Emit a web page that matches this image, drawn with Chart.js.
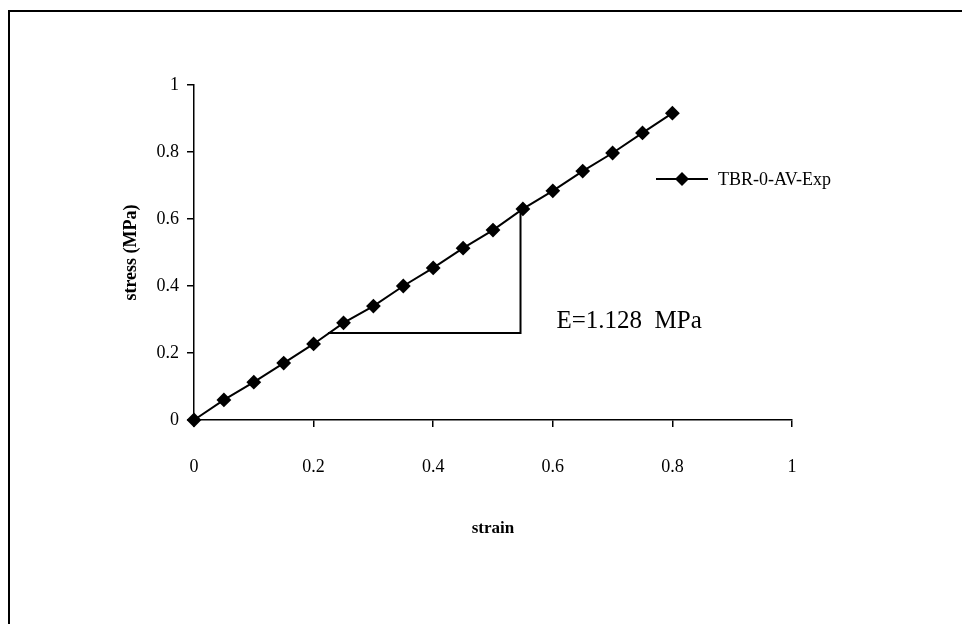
<!DOCTYPE html>
<html>
<head>
<meta charset="utf-8">
<script src="https://cdn.jsdelivr.net/npm/chart.js@4.4.0/dist/chart.umd.min.js"></script>
<style>
  html, body { margin: 0; padding: 0; background: #fff; }
  #wrap { position: relative; width: 962px; height: 624px; overflow: hidden; }
  #frame { position: absolute; left: 8px; top: 10px; right: -10px; bottom: -10px;
           border-top: 2px solid #000; border-left: 2px solid #000; }
  canvas { position: absolute; left: 0; top: 0; }
</style>
</head>
<body>
<div id="wrap">
  <div id="frame"></div>
  <canvas id="c" width="962" height="624"></canvas>
</div>
<script>
const strain = [0, 0.05, 0.1, 0.15, 0.2, 0.25, 0.3, 0.35, 0.4, 0.45, 0.5, 0.55, 0.6, 0.65, 0.7, 0.75, 0.8];
const stress = [0, 0.060, 0.113, 0.170, 0.227, 0.290, 0.340, 0.400, 0.454, 0.513, 0.567, 0.630, 0.684, 0.743, 0.797, 0.857, 0.916];
// slope triangle (strain, stress)
const triX = [0.224, 0.546, 0.546];
const triY = [0.26, 0.26, 0.625];
const xTicks = [0, 0.2, 0.4, 0.6, 0.8, 1];
const yTicks = [0, 0.2, 0.4, 0.6, 0.8, 1];
const seriesName = "TBR-0-AV-Exp";
const noteText = "E=1.128  MPa";
const notePos = [0.606, 0.293];

const SERIF = "'Liberation Serif', 'Times New Roman', serif";

const overlay = {
  id: "overlay",
  afterDatasetsDraw(chart) {
    const { ctx, scales: { x, y } } = chart;
    ctx.save();
    // annotation
    ctx.fillStyle = "#000";
    ctx.font = "25px " + SERIF;
    ctx.textBaseline = "middle";
    ctx.textAlign = "left";
    ctx.fillText(noteText, x.getPixelForValue(notePos[0]), y.getPixelForValue(notePos[1]));
    // legend
    const ly = 179;
    ctx.strokeStyle = "#000";
    ctx.lineWidth = 2;
    ctx.beginPath(); ctx.moveTo(656, ly); ctx.lineTo(708, ly); ctx.stroke();
    ctx.beginPath();
    ctx.moveTo(682, ly - 7); ctx.lineTo(689, ly); ctx.lineTo(682, ly + 7); ctx.lineTo(675, ly);
    ctx.closePath(); ctx.fill();
    ctx.font = "18px " + SERIF;
    ctx.fillText(seriesName, 718, ly + 1);
    ctx.restore();
  }
};

const fmt = v => String(v);

new Chart(document.getElementById("c"), {
  type: "scatter",
  data: {
    datasets: [
      { label: seriesName, data: strain.map((s, i) => ({ x: s, y: stress[i] })),
        showLine: true, borderColor: "#000", backgroundColor: "#000", borderWidth: 2,
        pointStyle: "rectRot", pointRadius: 6, pointHoverRadius: 6, clip: false },
      { label: "slope", data: triX.map((s, i) => ({ x: s, y: triY[i] })),
        showLine: true, borderColor: "#000", borderWidth: 2, pointRadius: 0, clip: false },
    ],
  },
  options: {
    responsive: false, animation: false, events: [],
    layout: { padding: { top: 85, right: 170, left: 0, bottom: 0 } },
    scales: {
      x: {
        type: "linear", min: 0, max: 1,
        afterBuildTicks: s => { s.ticks = xTicks.map(v => ({ value: v })); },
        afterFit: s => { s.height = 204; },
        ticks: { color: "#000", font: { family: SERIF, size: 18 }, padding: 29, autoSkip: false,
                 maxRotation: 0, callback: fmt },
        grid: { display: true, drawOnChartArea: false, drawTicks: true, tickLength: 7, color: "#000", lineWidth: 1.5 },
        border: { display: true, color: "#000", width: 1.5 },
        title: { display: true, text: "strain", color: "#000",
                 font: { family: SERIF, size: 17, weight: "bold" }, padding: { top: 0, bottom: 85 } },
      },
      y: {
        type: "linear", min: 0, max: 1,
        afterBuildTicks: s => { s.ticks = yTicks.map(v => ({ value: v })); },
        afterFit: s => { s.width = 194; },
        ticks: { color: "#000", font: { family: SERIF, size: 18 }, padding: 8, autoSkip: false, callback: fmt },
        grid: { display: true, drawOnChartArea: false, drawTicks: true, tickLength: 7, color: "#000", lineWidth: 1.5 },
        border: { display: true, color: "#000", width: 1.5 },
        title: { display: true, text: "stress (MPa)", color: "#000",
                 font: { family: SERIF, size: 18, weight: "bold" }, padding: { top: 121, bottom: 0 } },
      },
    },
    plugins: { legend: { display: false }, tooltip: { enabled: false } },
  },
  plugins: [overlay],
});
</script>
</body>
</html>
